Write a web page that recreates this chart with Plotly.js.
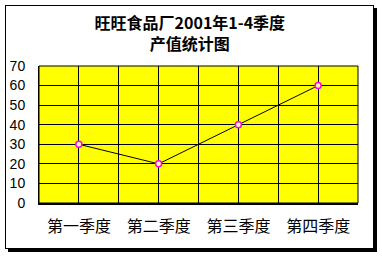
<!DOCTYPE html>
<html>
<head>
<meta charset="utf-8">
<script src="https://cdn.plot.ly/plotly-3.0.1.min.js"></script>
<style>
  html, body { margin: 0; padding: 0; background: #ffffff; }
  #frame { position: absolute; left: 5px; top: 5px; width: 367px; height: 242px;
           border: 1px solid #000; box-shadow: 3px 3px 0 #000; background: #fff; }
  #chart { position: absolute; left: 0; top: 0; width: 382px; height: 257px; }
</style>
</head>
<body>
<div id="frame"></div>
<div id="chart"></div>
<script>
const categories = ['第一季度', '第二季度', '第三季度', '第四季度'];
const values = [30, 20, 40, 60];
const yTicks = [0, 10, 20, 30, 40, 50, 60, 70];
const titleText = '旺旺食品厂2001年1-4季度<br>产值统计图';

// category positions and boundaries (half-steps) for the grid
const xIdx = categories.map((c, i) => i);
const tickVals = [];
const tickText = [];
for (let i = -1; i < categories.length; i++) {
  if (i >= 0) { tickVals.push(i); tickText.push(categories[i]); }
  tickVals.push(i + 0.5); tickText.push('');
}

const trace = {
  type: 'scatter',
  mode: 'lines+markers',
  x: xIdx,
  y: values,
  line: { color: '#000000', width: 1 },
  marker: { symbol: 'circle', size: 6, color: '#ffffa0', line: { color: '#ff00ff', width: 1.5 } },
  hoverinfo: 'skip',
  cliponaxis: false
};

const layout = {
  width: 382,
  height: 257,
  margin: { l: 39, r: 24, t: 66, b: 54, pad: 0 },
  paper_bgcolor: 'rgba(0,0,0,0)',
  plot_bgcolor: '#ffff00',
  showlegend: false,
  title: {
    text: titleText,
    font: { family: 'Noto Sans CJK SC', size: 16, color: '#000', weight: 'bold' },
    x: 0.497, xanchor: 'center',
    y: 0.887, yanchor: 'top', yref: 'container'
  },
  xaxis: {
    type: 'linear',
    range: [-0.5, categories.length - 0.5],
    tickmode: 'array',
    tickvals: tickVals,
    ticktext: tickText,
    showgrid: true, gridcolor: '#000', gridwidth: 1,
    zeroline: false,
    showline: true, linecolor: '#000', linewidth: 2,
    ticks: '', ticklabelstandoff: 8,
    tickfont: { family: 'Noto Sans CJK SC', size: 16, color: '#000' },
    fixedrange: true
  },
  yaxis: {
    range: [0, 70],
    tickmode: 'array',
    tickvals: yTicks,
    ticktext: yTicks.map(String),
    showgrid: true, gridcolor: '#000', gridwidth: 1,
    zeroline: false,
    showline: true, linecolor: '#000', linewidth: 1,
    ticks: '', ticklabelstandoff: 10,
    tickfont: { family: 'Liberation Sans', size: 14, color: '#000' },
    fixedrange: true
  },
  shapes: [
    { type: 'rect', xref: 'paper', yref: 'paper', x0: 0, x1: 1, y0: 0, y1: 1,
      line: { color: '#000', width: 1 }, fillcolor: 'rgba(0,0,0,0)', layer: 'above' }
  ]
};

Plotly.newPlot('chart', [trace], layout, { displayModeBar: false, staticPlot: true });
</script>
</body>
</html>
